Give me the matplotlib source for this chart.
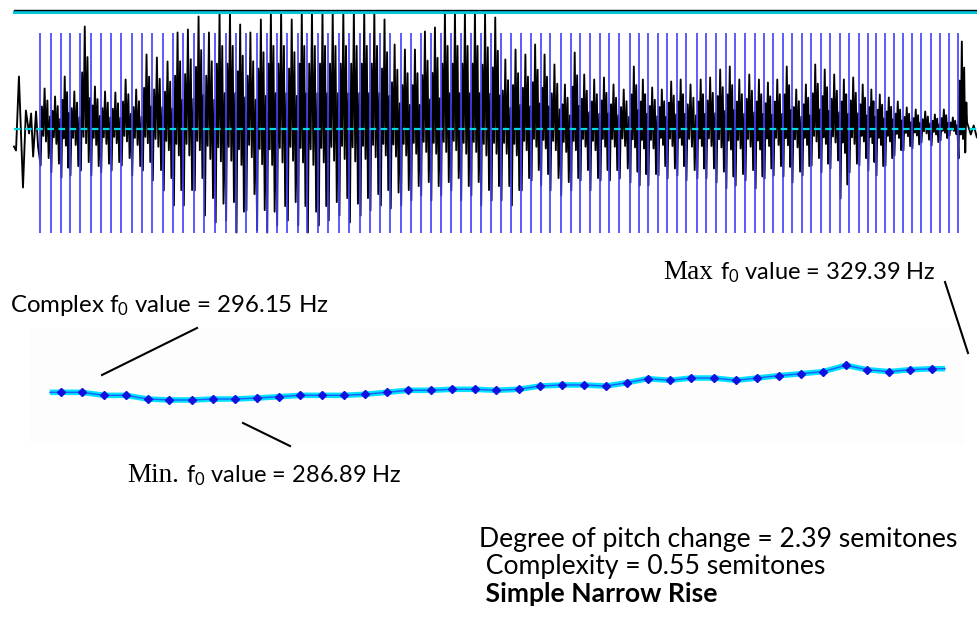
import numpy as np
import matplotlib
matplotlib.use("Agg")
import matplotlib.pyplot as plt
from matplotlib.lines import Line2D
from matplotlib.patches import Rectangle

plt.rcParams['font.family'] = ['Lato', 'DejaVu Sans']
plt.rcParams['mathtext.fontset'] = 'custom'
plt.rcParams['mathtext.rm'] = 'Lato'
plt.rcParams['mathtext.it'] = 'Lato'
plt.rcParams['mathtext.bf'] = 'Lato:bold'

# glottal pulse times (ms)
pulse_t = [9.0, 12.7, 16.2, 19.3, 22.9, 26.5, 29.9, 33.5, 37.0, 40.6,
           44.3, 47.7, 51.5, 55.0, 58.4, 62.2, 65.7, 69.4, 73.0, 76.6,
           80.0, 83.7, 87.2, 90.6, 94.3, 97.9, 101.2, 105.0, 108.4, 112.1,
           115.7, 119.4, 122.8, 126.4, 129.8, 133.4, 136.9, 140.3, 143.8, 147.2,
           150.7, 154.1, 157.6, 161.0, 164.6, 168.0, 171.6, 175.0, 178.4, 181.7,
           184.9, 188.6, 192.1, 195.3, 198.7, 202.2, 205.4, 208.8, 212.5, 215.7,
           218.7, 222.2, 225.3, 228.7, 231.8, 235.6, 238.7, 242.2, 245.6, 248.8,
           252.2, 255.7, 258.8, 261.9, 265.3, 268.4, 271.9, 275.0, 278.4, 281.5,
           285.0, 288.1, 291.5, 294.6, 297.4, 300.5, 303.6, 306.7, 309.8, 312.9,
           316.4, 319.5, 322.6, 325.7]

# per-cycle positive / negative extremes of the waveform (arbitrary amplitude units)
cycle_peak = [40, 32, 52, 37, 102, 42, 37, 36, 49, 39,
              74, 71, 67, 96, 99, 112, 96, 118, 118, 104,
              96, 109, 118, 118, 109, 118, 118, 118, 118, 118,
              118, 118, 118, 109, 84, 79, 79, 97, 101, 118,
              118, 118, 118, 116, 111, 69, 79, 74, 84, 74,
              64, 44, 76, 54, 49, 51, 44, 39, 62, 49,
              41, 39, 47, 49, 44, 49, 51, 59, 62, 49,
              54, 49, 46, 49, 62, 39, 44, 64, 59, 54,
              49, 51, 44, 39, 34, 31, 27, 21, 19, 17,
              14, 19, 11, 87]
cycle_trough = [-37, -44, -49, -47, -42, -47, -44, -42, -37, -47,
                -42, -52, -62, -77, -77, -62, -87, -94, -92, -104,
                -82, -102, -104, -97, -92, -97, -104, -97, -92, -87,
                -94, -87, -82, -77, -80, -77, -72, -67, -72, -67,
                -62, -72, -67, -77, -72, -72, -77, -62, -52, -57,
                -62, -67, -62, -52, -62, -52, -52, -50, -54, -57,
                -57, -47, -50, -47, -52, -50, -50, -54, -60, -57,
                -52, -60, -50, -47, -48, -54, -47, -37, -44, -40,
                -70, -44, -37, -42, -47, -37, -27, -22, -20, -14,
                -17, -12, -7, -30]

# waveform before the first pulse and after the last one
lead_t = [0.0, 0.7, 1.7, 3.1, 4.1, 5.2, 5.9, 6.6, 7.6, 8.3]
lead_v = [-18, -22, 52, -59, 18, -5, 15, -28, 17, -18]
tail_t = [328.8, 330.1, 331.1, 332.2, 332.6]
tail_v = [6, -6, 3, -9, -7]

# f0 contour
f0_t = [16.1, 23.4, 31.1, 38.5, 46.2, 53.5, 61.4, 68.7, 76.2, 83.8,
        91.4, 98.7, 106.3, 113.9, 121.1, 128.7, 135.9, 143.9, 151.1, 159.0,
        166.3, 174.1, 181.5, 189.1, 196.6, 204.2, 211.5, 218.7, 226.3, 233.6,
        241.5, 249.1, 256.3, 263.9, 271.5, 279.1, 287.0, 294.3, 301.9, 309.1,
        316.7]
f0_hz = [296.3, 296.3, 292.6, 292.6, 288.1, 286.9, 286.9, 288.1, 288.1, 289.3,
         290.9, 292.6, 292.6, 292.6, 293.9, 296.3, 298.8, 298.8, 300.0, 300.0,
         298.8, 300.0, 304.0, 305.3, 305.3, 304.0, 308.1, 313.0, 311.0, 313.8,
         313.8, 311.0, 313.8, 316.7, 319.1, 321.6, 329.4, 324.0, 321.6, 324.0,
         325.2]
contour_start, contour_end = 12.4, 321.2

complex_label = "Complex f$_{0}$ value = 296.15 Hz"
min_label = ("Min.", "f$_{0}$ value = 286.89 Hz")
max_label = ("Max", "f$_{0}$ value = 329.39 Hz")
summary = ["Degree of pitch change = 2.39 semitones",
           " Complexity = 0.55 semitones"]
verdict = " Simple Narrow Rise"

W, H = 978, 624
fig = plt.figure(figsize=(W / 100, H / 100), dpi=100)
fig.patch.set_facecolor('white')


def fx(px):
    return px / W


def fy(py):
    return 1 - py / H


# build waveform from the per-cycle extremes
shape_f = [0.05, 0.17, 0.30, 0.42, 0.55, 0.68, 0.80, 0.92]
wt, wv = list(lead_t), list(lead_v)
for i, t0 in enumerate(pulse_t):
    t1 = pulse_t[i + 1] if i + 1 < len(pulse_t) else t0 + 3.1
    p, q = cycle_peak[i], cycle_trough[i]
    vals = [q, 0.55 * p, 0.2 * q, p, 0.35 * q, 0.7 * p, 0.8 * q, 0.3 * p]
    for f, v in zip(shape_f, vals):
        wt.append(t0 + f * (t1 - t0))
        wv.append(v)
wt += tail_t
wv += tail_v
wv = np.clip(wv, -110, 117.5)

xlim = (-4.83, 332.58)

# waveform panel
ax = fig.add_axes([0, fy(240), 1, 240 / H])
ax.set_xlim(*xlim)
ax.set_ylim(-111.5, 128.5)
ax.axis('off')
ax.plot(wt, wv, color='black', lw=1.35, zorder=2)
ax.vlines(pulse_t, -104.5, 95.5, color='#4040ff', lw=1.2, zorder=3)
ax.plot([0, xlim[1]], [0, 0], color='#00d8e8', lw=1.6, ls=(0, (3, 2)), zorder=4)
ax.plot([0, xlim[1]], [116.5, 116.5], color='#00c8d8', lw=2.2, zorder=4)
ax.plot([0, xlim[1]], [118.8, 118.8], color='black', lw=1.0, zorder=4)

# faint backdrop of the contour picture
fig.add_artist(Rectangle((fx(30), fy(445)), fx(935), 117 / H,
                         transform=fig.transFigure, facecolor='#fdfdfd',
                         edgecolor='none', zorder=0))

# f0 contour panel
ax2 = fig.add_axes([0, fy(440), 1, 140 / H])
ax2.set_xlim(*xlim)
ax2.set_ylim(237.9, 409.37)
ax2.axis('off')
line_t = [contour_start] + f0_t + [contour_end]
line_hz = [f0_hz[0]] + f0_hz + [f0_hz[-1]]
ax2.plot(line_t, line_hz, color='#00e0ff', lw=4.0, solid_capstyle='butt')
ax2.plot(line_t, line_hz, color='#1a5cff', lw=1.0)
ax2.plot(f0_t, f0_hz, ls='none', marker='D', ms=3.6, color='#1010e0')

# pointer lines
for (x0, y0), (x1, y1) in [((197, 328), (102, 375)),
                           ((243, 423), (290, 446)),
                           ((945, 282), (968, 353))]:
    fig.add_artist(Line2D([fx(x0), fx(x1)], [fy(y0), fy(y1)],
                          transform=fig.transFigure, color='black', lw=1.5))

fs = 17
fig.text(fx(10), fy(312), complex_label, fontsize=fs + 0.3, va='baseline')

renderer = fig.canvas.get_renderer()


def two_font(x, y, serif_txt, sans_txt):
    t1 = fig.text(fx(x), fy(y), serif_txt, family='Liberation Serif',
                  fontsize=fs + 2.5, va='baseline')
    bb = t1.get_window_extent(renderer)
    fig.text(fx(bb.x1 + 7), fy(y), sans_txt, fontsize=fs, va='baseline')


two_font(127, 482, *min_label)
two_font(663, 279, *max_label)

fs2 = 19.1
fig.text(fx(479), fy(547), summary[0], fontsize=fs2, va='baseline')
fig.text(fx(479), fy(574), summary[1], fontsize=fs2, va='baseline')
fig.text(fx(479), fy(602), verdict, fontsize=fs2, va='baseline', weight='bold')

fig.savefig('out.png', dpi=100)
